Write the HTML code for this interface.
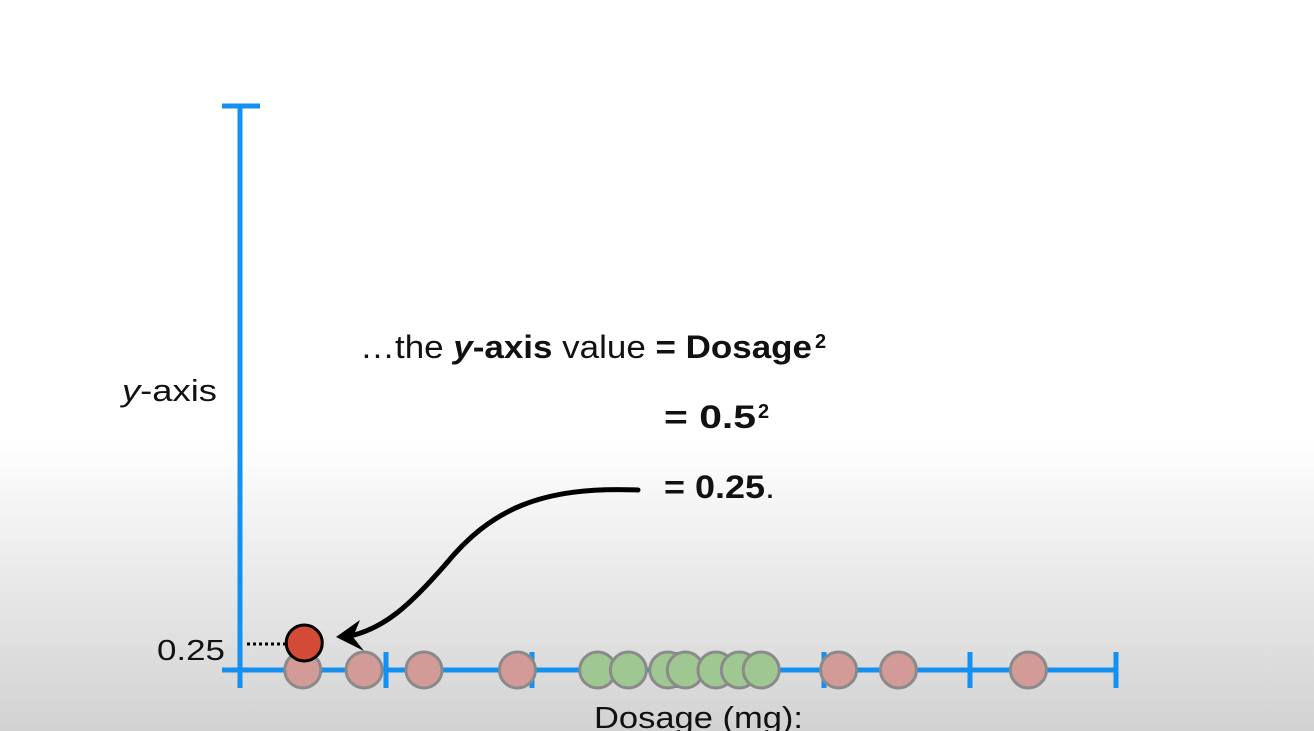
<!DOCTYPE html>
<html><head><meta charset="utf-8"><style>
html,body{margin:0;padding:0}
body{width:1314px;height:731px;overflow:hidden;background:linear-gradient(to bottom,#fff 0px,#fff 440px,#ececec 560px,#d2d2d2 731px);font-family:"Liberation Sans",Arial,sans-serif}
svg{position:absolute;left:0;top:0}
</style></head><body>
<svg width="1314" height="731" viewBox="0 0 1314 731">
<g id="axes"></g>
<g id="pts"></g>
<text x="122" y="401" font-size="31" fill="#111" textLength="95" lengthAdjust="spacingAndGlyphs"><tspan font-style="italic">y</tspan>-axis</text>
<text x="157" y="660" font-size="29" fill="#111" textLength="68" lengthAdjust="spacingAndGlyphs">0.25</text>
<text x="594" y="728" font-size="31" fill="#111" textLength="209" lengthAdjust="spacingAndGlyphs">Dosage (mg):</text>
<text x="360" y="358" font-size="32" fill="#111" textLength="452" lengthAdjust="spacingAndGlyphs">…the <tspan font-weight="bold" font-style="italic">y</tspan><tspan font-weight="bold">-axis</tspan> value <tspan font-weight="bold">= Dosage</tspan></text>
<text x="815" y="348" font-size="20" font-weight="bold" fill="#111">2</text>
<text x="664" y="428" font-size="32" font-weight="bold" fill="#111" textLength="92" lengthAdjust="spacingAndGlyphs">= 0.5</text>
<text x="758" y="418" font-size="20" font-weight="bold" fill="#111">2</text>
<text x="664" y="498" font-size="32" font-weight="bold" fill="#111" textLength="111" lengthAdjust="spacingAndGlyphs">= 0.25<tspan font-weight="normal">.</tspan></text>
<path d="M638,490 C540,486 490,510 445,565 C410,605 385,628 350,636" fill="none" stroke="#000" stroke-width="5" stroke-linecap="round"/>
<path d="M336,637 L360,620 L353,637 L364,651 Z" fill="#000"/>
</svg>
<script>
const xTicks=[0,1,2,3,4,5,6];
const redX=[0.43,0.85,1.26,1.9,4.1,4.51,5.4];
const greenX=[2.45,2.66,2.93,3.05,3.26,3.42,3.57];
const highlightX=[0.44];
const highlightY=[0.25];
const X0=240,UNIT=146,Y0=670,YUNIT=100;
const sx=v=>X0+v*UNIT, sy=v=>Y0-v*YUNIT;
const NS='http://www.w3.org/2000/svg';
const blue='#1590f0';
function mk(tag,attrs,parent){const e=document.createElementNS(NS,tag);for(const k in attrs)e.setAttribute(k,attrs[k]);parent.appendChild(e);return e;}
const ax=document.getElementById('axes'),pts=document.getElementById('pts');
let e=mk('line',{x1:X0,y1:106,x2:X0,y2:Y0+18,stroke:blue,'stroke-width':5},ax);


e=mk('line',{x1:222,y1:106,x2:260,y2:106,stroke:blue,'stroke-width':5},ax);


e=mk('line',{x1:222,y1:Y0,x2:sx(xTicks[xTicks.length-1]),y2:Y0,stroke:blue,'stroke-width':5},ax);


xTicks.forEach(t=>{const el=mk('line',{x1:sx(t),y1:Y0-18,x2:sx(t),y2:Y0+18,stroke:blue,'stroke-width':5},ax);

});
redX.forEach(v=>{const c=mk('circle',{cx:sx(v),cy:Y0,r:18,fill:'#d39b98',stroke:'#8a8a8a','stroke-width':3},pts);

});
greenX.forEach(v=>{const c=mk('circle',{cx:sx(v),cy:Y0,r:18,fill:'#9fc792',stroke:'#8a8a8a','stroke-width':3},pts);

});
highlightX.forEach((v,i)=>{
const d=mk('line',{x1:247,y1:sy(highlightY[i])-1,x2:sx(v)-19,y2:sy(highlightY[i])-1,stroke:'#000','stroke-width':3,'stroke-dasharray':'3,3'},pts);


const c=mk('circle',{cx:sx(v),cy:sy(highlightY[i])-2,r:18,fill:'#d34a36',stroke:'#000','stroke-width':3},pts);

});
</script>
</body></html>
